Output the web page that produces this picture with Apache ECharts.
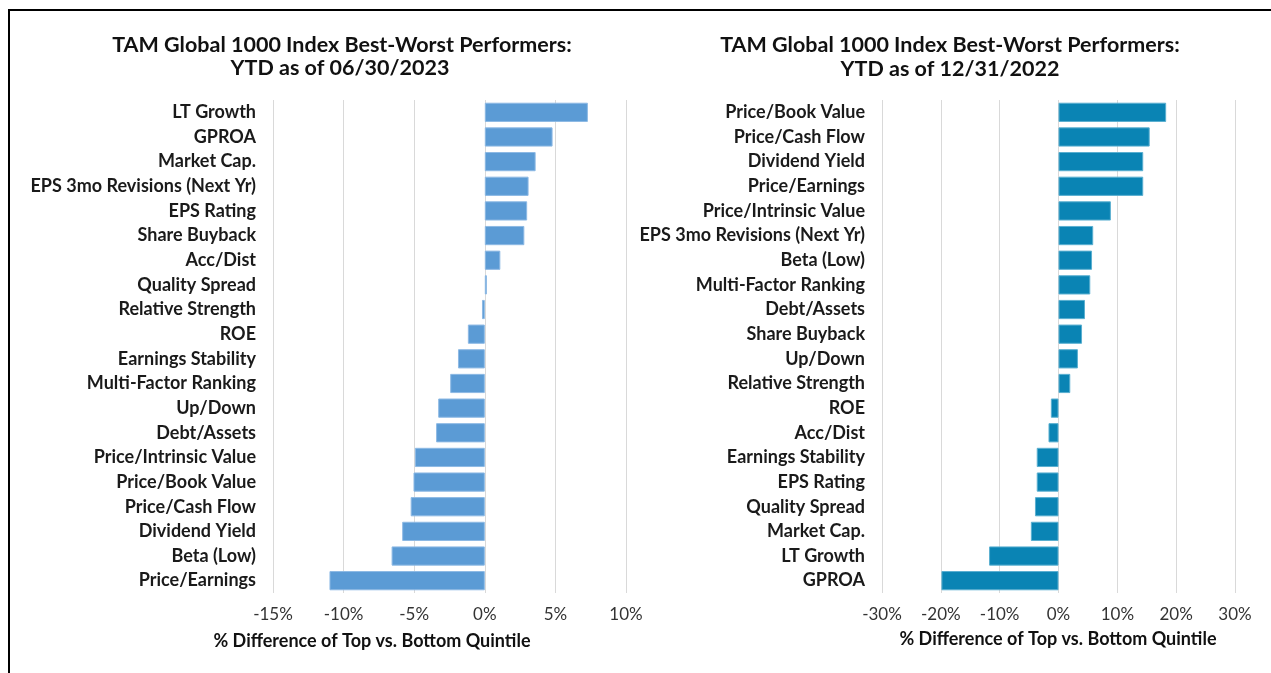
<!DOCTYPE html>
<html>
<head>
<meta charset="utf-8">
<script src="https://cdn.jsdelivr.net/npm/echarts@6/dist/echarts.min.js"></script>
<style>
html,body{margin:0;padding:0;background:#fff;}
#c{width:1271px;height:673px;}
</style>
</head>
<body>
<div id="c"></div>
<script>
// Left chart: YTD as of 06/30/2023
const leftCategories = ['LT Growth','GPROA','Market Cap.','EPS 3mo Revisions (Next Yr)','EPS Rating','Share Buyback','Acc/Dist','Quality Spread','Relative Strength','ROE','Earnings Stability','Multi-Factor Ranking','Up/Down','Debt/Assets','Price/Intrinsic Value','Price/Book Value','Price/Cash Flow','Dividend Yield','Beta (Low)','Price/Earnings'];
const leftValues = [7.3, 4.8, 3.6, 3.1, 3.0, 2.8, 1.1, 0.15, -0.2, -1.2, -1.9, -2.45, -3.3, -3.45, -4.95, -5.05, -5.25, -5.85, -6.6, -11.0];
const leftTicks = {min: -15, max: 10, interval: 5};

// Right chart: YTD as of 12/31/2022
const rightCategories = ['Price/Book Value','Price/Cash Flow','Dividend Yield','Price/Earnings','Price/Intrinsic Value','EPS 3mo Revisions (Next Yr)','Beta (Low)','Multi-Factor Ranking','Debt/Assets','Share Buyback','Up/Down','Relative Strength','ROE','Acc/Dist','Earnings Stability','EPS Rating','Quality Spread','Market Cap.','LT Growth','GPROA'];
const rightValues = [18.3, 15.5, 14.4, 14.4, 8.9, 5.9, 5.7, 5.4, 4.5, 4.0, 3.3, 2.0, -1.3, -1.7, -3.7, -3.7, -4.0, -4.7, -11.8, -19.9];
const rightTicks = {min: -30, max: 30, interval: 10};

const titles = [
  ['TAM Global 1000 Index Best-Worst Performers:', 'YTD as of 06/30/2023'],
  ['TAM Global 1000 Index Best-Worst Performers:', 'YTD as of 12/31/2022']
];
const axisTitle = '% Difference of Top vs. Bottom Quintile';

const FONT = 'Lato, "Open Sans", sans-serif';
const chart = echarts.init(document.getElementById('c'), null, {renderer: 'canvas'});

function xAx(idx, t) {
  return {
    type: 'value', gridIndex: idx, min: t.min, max: t.max, interval: t.interval,
    axisLine: {show: false}, axisTick: {show: false},
    axisLabel: {formatter: v => v + '%', fontFamily: FONT, fontSize: 17, color: '#333', margin: 13},
    splitLine: {show: true, lineStyle: {color: '#d9d9d9', width: 1}}
  };
}
function yAx(idx, cats) {
  return {
    type: 'category', gridIndex: idx, data: cats, inverse: true,
    axisLine: {show: false}, axisTick: {show: false},
    axisLabel: {fontFamily: FONT, fontSize: 18, fontWeight: 'bold', color: '#1a1a1a', margin: 17},
    splitLine: {show: false}
  };
}
function txt(x, y, s, size, weight) {
  return {type: 'text', x: x, y: y, style: {text: s, font: weight + ' ' + size + 'px ' + FONT, fill: '#111', textAlign: 'center', textVerticalAlign: 'middle'}};
}

chart.setOption({
  animation: false,
  backgroundColor: '#fff',
  grid: [
    {left: 273, top: 100, width: 353, height: 493},
    {left: 882, top: 100, width: 353, height: 493}
  ],
  xAxis: [xAx(0, leftTicks), xAx(1, rightTicks)],
  yAxis: [yAx(0, leftCategories), yAx(1, rightCategories)],
  series: [
    {type: 'bar', xAxisIndex: 0, yAxisIndex: 0, data: leftValues, barCategoryGap: '22%',
     itemStyle: {color: '#5B9BD5', borderColor: '#8DB9E4', borderWidth: 1}},
    {type: 'bar', xAxisIndex: 1, yAxisIndex: 1, data: rightValues, barCategoryGap: '22%',
     itemStyle: {color: '#0A84B4', borderColor: '#5AAFD0', borderWidth: 1}}
  ],
  graphic: [
    {type: 'line', shape: {x1: 9, y1: 10, x2: 9, y2: 673}, style: {stroke: '#000', lineWidth: 2}},
    {type: 'line', shape: {x1: 8, y1: 10, x2: 1271, y2: 10}, style: {stroke: '#000', lineWidth: 2}},
    txt(342, 45, titles[0][0], 21.5, 'bold'),
    txt(340, 68, titles[0][1], 21.5, 'bold'),
    txt(950, 45, titles[1][0], 21.5, 'bold'),
    txt(950, 69, titles[1][1], 21.5, 'bold'),
    txt(372, 641, axisTitle, 18, 'bold'),
    txt(1058, 639, axisTitle, 18, 'bold')
  ]
});
</script>
</body>
</html>
